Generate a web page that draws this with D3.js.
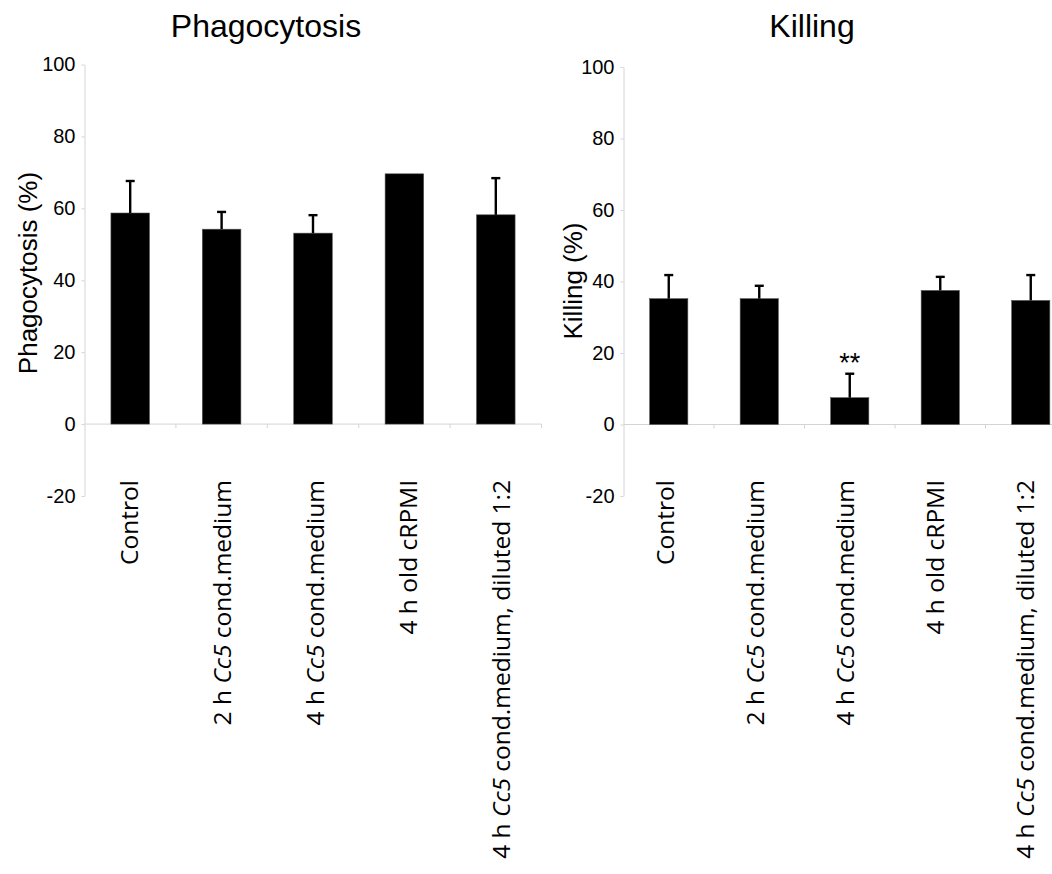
<!DOCTYPE html>
<html>
<head>
<meta charset="utf-8">
<script src="https://cdn.jsdelivr.net/npm/d3@7"></script>
<style>
  html, body { margin: 0; padding: 0; background: #fff; }
  svg { display: block; }
</style>
</head>
<body>
<svg id="chart" width="1052" height="874"></svg>
<script>
// Treatments (shared by both panels)
const categories = [
  "Control",
  "2 h Cc5 cond.medium",
  "4 h Cc5 cond.medium",
  "4 h old cRPMI",
  "4 h Cc5 cond.medium, diluted 1:2"
];

// Phagocytosis (%) – mean and error (upper bar length)
const phagocytosisMean = [58.7, 54.2, 53.1, 69.6, 58.2];
const phagocytosisErr  = [8.9, 4.8, 5.0, 0, 10.2];

// Killing (%) – mean, error and significance marks
const killingMean = [35.2, 35.2, 7.5, 37.5, 34.7];
const killingErr  = [6.6, 3.6, 6.7, 3.8, 7.1];
const killingSig  = ["", "", "**", "", ""];

const yTicks = [-20, 0, 20, 40, 60, 80, 100];
const yDomain = [-20, 100];

const panels = [
  {
    title: "Phagocytosis", yLabel: "Phagocytosis (%)",
    mean: phagocytosisMean, err: phagocytosisErr, sig: ["", "", "", "", ""],
    x0: 84.5, x1: 541.5, top: 64.5, bottom: 496,
    labelRange: [138, 510], titleX: 266, yLabelX: 37, yLabelY: 273
  },
  {
    title: "Killing", yLabel: "Killing (%)",
    mean: killingMean, err: killingErr, sig: killingSig,
    x0: 623.5, x1: 1076, top: 67, bottom: 496,
    labelRange: [674, 1034], titleX: 812, yLabelX: 582, yLabelY: 281
  }
];

const svg = d3.select("#chart");
const AXIS_GREY = "#d4d4d4";

panels.forEach(p => {
  const g = svg.append("g");

  const x = d3.scaleBand()
    .domain(categories)
    .range([p.x0, p.x1])
    .paddingInner(0.578)
    .paddingOuter(0.289);

  const y = d3.scaleLinear().domain(yDomain).range([p.bottom, p.top]);

  // value axis (plain hyphen for negatives)
  const yAxis = d3.axisLeft(y)
    .tickValues(yTicks)
    .tickSize(3)
    .tickSizeOuter(0)
    .tickPadding(6)
    .tickFormat(d => String(d));

  const ya = g.append("g")
    .attr("transform", `translate(${p.x0},0)`)
    .call(yAxis);
  ya.select(".domain").attr("stroke", AXIS_GREY);
  ya.selectAll(".tick line").attr("stroke", AXIS_GREY);
  ya.selectAll(".tick text")
    .attr("fill", "#000")
    .style("font-family", "'Liberation Sans Narrow', 'Liberation Sans', Arial, sans-serif")
    .style("font-size", "20px");

  // zero line with category boundary ticks
  const y0 = y(0);
  g.append("line")
    .attr("x1", p.x0).attr("x2", p.x1)
    .attr("y1", y0).attr("y2", y0)
    .attr("stroke", AXIS_GREY);
  const step = x.step();
  g.selectAll(".cat-tick")
    .data(d3.range(1, categories.length + 1))
    .join("line")
    .attr("class", "cat-tick")
    .attr("x1", i => p.x0 + i * step)
    .attr("x2", i => p.x0 + i * step)
    .attr("y1", y0).attr("y2", y0 + 4)
    .attr("stroke", AXIS_GREY);

  const rows = categories.map((c, i) => ({ c, v: p.mean[i], e: p.err[i], s: p.sig[i] }));

  // bars
  g.selectAll(".bar")
    .data(rows)
    .join("rect")
    .attr("class", "bar")
    .attr("x", d => x(d.c))
    .attr("width", x.bandwidth())
    .attr("y", d => y(Math.max(0, d.v)))
    .attr("height", d => Math.abs(y(d.v) - y(0)))
    .attr("fill", "#000")
    .attr("stroke", "#555")
    .attr("stroke-width", 0.6);

  // error bars (upper only)
  const eb = g.selectAll(".err")
    .data(rows.filter(d => d.e > 0))
    .join("g")
    .attr("class", "err");
  eb.append("line")
    .attr("x1", d => x(d.c) + x.bandwidth() / 2)
    .attr("x2", d => x(d.c) + x.bandwidth() / 2)
    .attr("y1", d => y(d.v))
    .attr("y2", d => y(d.v + d.e))
    .attr("stroke", "#000")
    .attr("stroke-width", 2.4);
  eb.append("line")
    .attr("x1", d => x(d.c) + x.bandwidth() / 2 - 4.5)
    .attr("x2", d => x(d.c) + x.bandwidth() / 2 + 4.5)
    .attr("y1", d => y(d.v + d.e))
    .attr("y2", d => y(d.v + d.e))
    .attr("stroke", "#000")
    .attr("stroke-width", 2.4);

  // significance marks
  g.selectAll(".sig")
    .data(rows.filter(d => d.s))
    .join("text")
    .attr("class", "sig")
    .attr("x", d => x(d.c) + x.bandwidth() / 2)
    .attr("y", d => y(d.v + d.e) - 2)
    .attr("text-anchor", "middle")
    .style("font-family", "'Liberation Sans', Arial, sans-serif")
    .style("font-size", "27px")
    .text(d => d.s);

  // category labels, rotated, with the strain name in italics
  const lx = d3.scalePoint().domain(categories).range(p.labelRange);
  const labels = g.selectAll(".cat-label")
    .data(categories)
    .join("text")
    .attr("class", "cat-label")
    .attr("transform", c => `translate(${lx(c)},480) rotate(-90)`)
    .attr("text-anchor", "end")
    .style("font-family", "'Open Sans', sans-serif")
    .style("font-size", "24.5px")
    .attr("fill", "#000");
  labels.each(function (c) {
    const t = d3.select(this);
    const parts = c.split("Cc5");
    parts.forEach((part, i) => {
      if (i > 0) t.append("tspan").style("font-style", "italic").text("Cc5");
      if (part) t.append("tspan").text(part);
    });
  });

  // panel title
  g.append("text")
    .attr("x", p.titleX).attr("y", 37)
    .attr("text-anchor", "middle")
    .style("font-family", "'Liberation Sans', Arial, sans-serif")
    .style("font-size", "32px")
    .text(p.title);

  // value axis title
  g.append("text")
    .attr("transform", `translate(${p.yLabelX},${p.yLabelY}) rotate(-90)`)
    .attr("text-anchor", "middle")
    .style("font-family", "'Liberation Sans', Arial, sans-serif")
    .style("font-size", "26px")
    .text(p.yLabel);
});
</script>
</body>
</html>
